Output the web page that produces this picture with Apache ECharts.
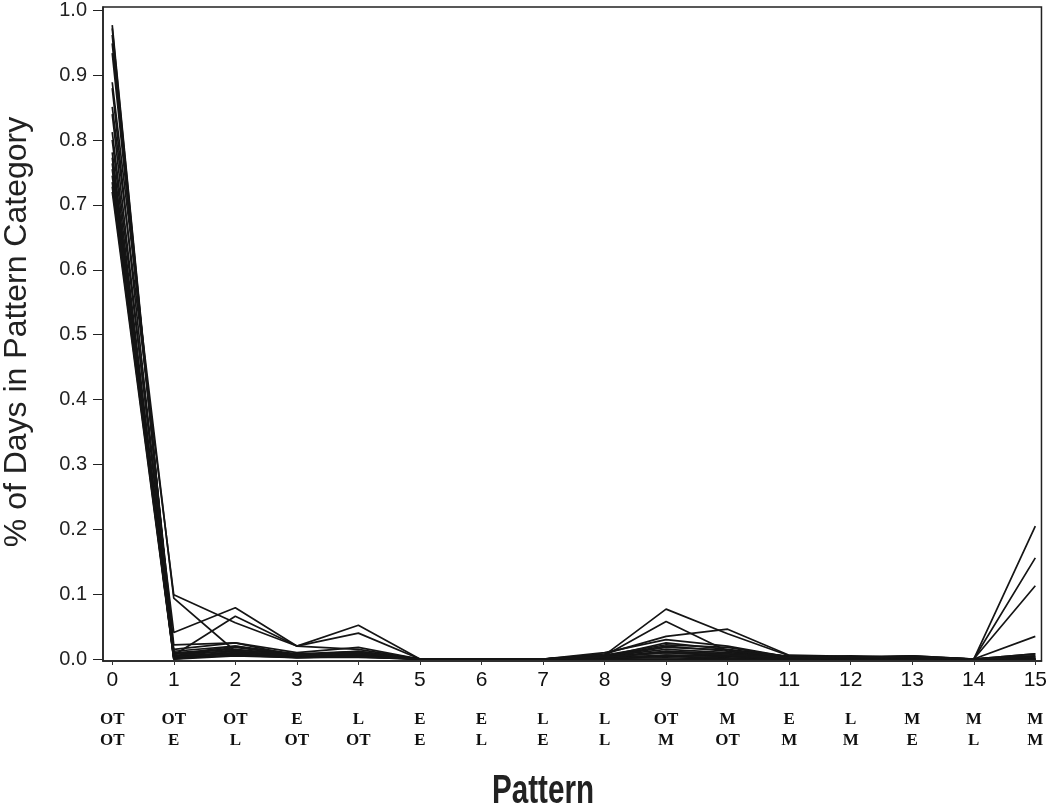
<!DOCTYPE html>
<html>
<head>
<meta charset="utf-8">
<script src="https://cdn.jsdelivr.net/npm/echarts@6/dist/echarts.min.js"></script>
<style>
  html, body { margin: 0; padding: 0; background: #fff; }
  #chart { width: 1050px; height: 806px; }
</style>
</head>
<body>
<div id="chart"></div>
<script>
// pattern index on the x axis and the two-row code under each number
const patterns = [0, 1, 2, 3, 4, 5, 6, 7, 8, 9, 10, 11, 12, 13, 14, 15];
const codeTop = ['OT', 'OT', 'OT', 'E', 'L', 'E', 'E', 'L', 'L', 'OT', 'M', 'E', 'L', 'M', 'M', 'M'];
const codeBottom = ['OT', 'E', 'L', 'OT', 'OT', 'E', 'L', 'E', 'L', 'M', 'OT', 'M', 'M', 'E', 'L', 'M'];
const yTicks = [0, 0.1, 0.2, 0.3, 0.4, 0.5, 0.6, 0.7, 0.8, 0.9, 1.0];

// share of days in each pattern, one profile per line
const p01 = [0.977, 0.005, 0.008, 0.003, 0.004, 0, 0, 0, 0.001, 0.002, 0, 0, 0, 0, 0, 0];
const p02 = [0.972, 0.003, 0.010, 0.005, 0.005, 0, 0, 0, 0, 0.005, 0, 0, 0, 0, 0, 0];
const p03 = [0.962, 0.008, 0.012, 0.004, 0.006, 0, 0, 0, 0.002, 0.004, 0.002, 0, 0, 0, 0, 0];
const p04 = [0.949, 0.010, 0.015, 0.006, 0.008, 0, 0, 0, 0.002, 0.006, 0.004, 0, 0, 0, 0, 0];
const p05 = [0.934, 0.022, 0.025, 0.005, 0.003, 0, 0, 0, 0.001, 0.006, 0.004, 0, 0, 0, 0, 0];
const p06 = [0.889, 0.094, 0.012, 0.002, 0.003, 0, 0, 0, 0, 0, 0, 0, 0, 0, 0, 0];
const p07 = [0.880, 0.006, 0.066, 0.020, 0.015, 0, 0, 0, 0.003, 0.010, 0.005, 0, 0, 0, 0, 0];
const p08 = [0.851, 0.099, 0.056, 0.020, 0.052, 0, 0, 0, 0.003, 0.012, 0.008, 0.002, 0, 0, 0, 0.005];
const p09 = [0.840, 0.012, 0.020, 0.008, 0.012, 0, 0, 0, 0.005, 0.058, 0.012, 0, 0.002, 0, 0, 0];
const p10 = [0.812, 0.041, 0.079, 0.020, 0.040, 0, 0, 0, 0.004, 0.015, 0.010, 0.003, 0, 0, 0, 0.002];
const p11 = [0.800, 0.005, 0.018, 0.006, 0.012, 0, 0, 0, 0.006, 0.077, 0.039, 0.005, 0.003, 0.002, 0, 0.003];
const p12 = [0.781, 0.015, 0.025, 0.010, 0.018, 0, 0, 0, 0.008, 0.035, 0.046, 0.006, 0.004, 0.003, 0, 0.035];
const p13 = [0.773, 0.007, 0.020, 0.004, 0.008, 0, 0, 0, 0.004, 0.025, 0.015, 0.004, 0.002, 0.005, 0, 0.008];
const p14 = [0.764, 0.004, 0.014, 0.006, 0.010, 0, 0, 0, 0.010, 0.030, 0.020, 0.003, 0.005, 0.002, 0, 0.005];
const p15 = [0.755, 0.002, 0.012, 0.005, 0.010, 0, 0, 0, 0.005, 0.020, 0.012, 0.004, 0.003, 0.005, 0, 0.113];
const p16 = [0.745, 0.000, 0.010, 0.004, 0.008, 0, 0, 0, 0.006, 0.022, 0.018, 0.003, 0.004, 0.003, 0, 0.156];
const p17 = [0.735, 0.003, 0.008, 0.003, 0.006, 0, 0, 0, 0.004, 0.018, 0.014, 0.002, 0.003, 0.004, 0, 0.205];
const p18 = [0.728, 0.001, 0.006, 0.002, 0.005, 0, 0, 0, 0.002, 0.012, 0.008, 0.002, 0.003, 0.002, 0, 0.008];
const p19 = [0.720, 0.000, 0.005, 0.002, 0.004, 0, 0, 0, 0.003, 0.010, 0.006, 0.002, 0.002, 0.003, 0, 0.003];

const profiles = [p01, p02, p03, p04, p05, p06, p07, p08, p09, p10,
                  p11, p12, p13, p14, p15, p16, p17, p18, p19];

const chart = echarts.init(document.getElementById('chart'), null, { renderer: 'canvas' });

const series = profiles.map((vals, i) => ({
  name: 'p' + (i + 1),
  type: 'line',
  data: patterns.map((p, j) => [p, vals[j]]),
  symbol: 'none',
  lineStyle: { color: '#151515', width: 1.7 },
  silent: true
}));

const option = {
  animation: false,
  backgroundColor: '#fff',
  grid: {
    left: 103, right: 3, top: 7, bottom: 145,
    show: true, borderColor: '#222', borderWidth: 1.5
  },
  xAxis: {
    type: 'value',
    min: -0.15, max: 15.1,
    splitLine: { show: false },
    axisLine: { onZero: false, lineStyle: { color: '#222', width: 1.5 } },
    axisTick: { customValues: patterns, length: 4, lineStyle: { color: '#333' } },
    axisLabel: {
      customValues: patterns,
      margin: 6,
      formatter: v => {
        const i = Math.round(v);
        return '{n|' + i + '}\n{g| }\n{s|' + codeTop[i] + '}\n{s|' + codeBottom[i] + '}';
      },
      rich: {
        n: { fontFamily: 'Liberation Sans, Arial, sans-serif', fontSize: 21, lineHeight: 26, color: '#111' },
        g: { fontSize: 8, lineHeight: 16 },
        s: { fontFamily: 'Liberation Serif, Times New Roman, serif', fontWeight: 'bold', fontSize: 17, lineHeight: 21, color: '#111' }
      }
    }
  },
  yAxis: {
    type: 'value',
    min: -0.003, max: 1.005,
    splitLine: { show: false },
    axisLine: { show: true, onZero: false, lineStyle: { color: '#222', width: 1.5 } },
    axisTick: { show: true, customValues: yTicks, length: 10, lineStyle: { color: '#222' } },
    axisLabel: {
      customValues: yTicks,
      margin: 16,
      formatter: v => v.toFixed(1),
      fontFamily: 'Liberation Sans, Arial, sans-serif',
      fontSize: 20,
      color: '#222'
    }
  },
  graphic: [
    {
      type: 'text',
      x: 17, y: 332,
      rotation: Math.PI / 2,
      style: {
        text: '% of Days in Pattern Category',
        fontFamily: 'Liberation Sans, Arial, sans-serif',
        fontSize: 32,
        fill: '#222',
        align: 'center',
        verticalAlign: 'middle'
      }
    },
    {
      type: 'text',
      x: 543, y: 792,
      scaleX: 0.74,
      style: {
        text: 'Pattern',
        fontFamily: 'Liberation Sans, Arial, sans-serif',
        fontWeight: 'bold',
        fontSize: 40,
        fill: '#222',
        align: 'center',
        verticalAlign: 'middle'
      }
    }
  ],
  series: series
};

chart.setOption(option);
</script>
</body>
</html>
